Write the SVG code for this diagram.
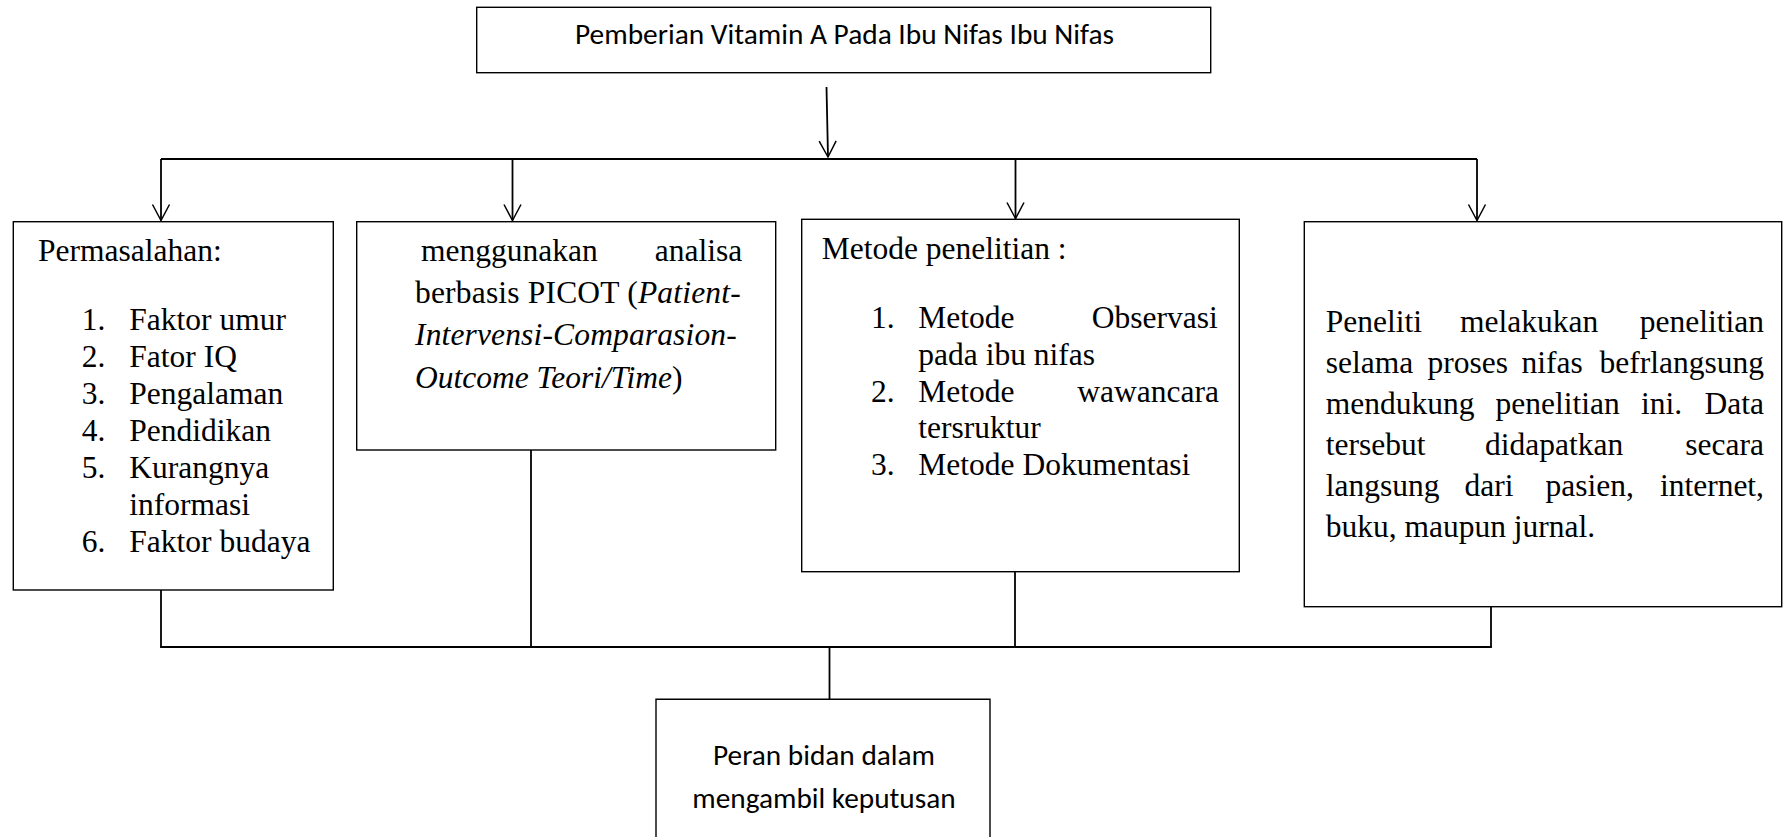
<svg xmlns="http://www.w3.org/2000/svg" width="1784" height="837" viewBox="0 0 1784 837">
<defs>
<style>
.box{fill:#fff;stroke:#000;stroke-width:1.4}
.cn{fill:none;stroke:#000;stroke-width:1.8}
.ser{font-family:"Liberation Serif","Times New Roman",serif;font-size:31.5px;fill:#000}
.it{font-style:italic}
.san{font-family:Carlito,Calibri,Lato,"Open Sans",sans-serif;font-size:28px;fill:#000}
</style>
<marker id="arr" markerUnits="userSpaceOnUse" markerWidth="20" markerHeight="22" viewBox="-18 -11 20 22" refX="0" refY="0" orient="auto">
<path d="M-16,-8.5 L0,0 L-16,8.5" fill="none" stroke="#000" stroke-width="1.5"/>
</marker>
</defs>
<rect width="1784" height="837" fill="#fff"/>

<g id="connectors">
<line class="cn" x1="826.5" y1="87" x2="828" y2="157" marker-end="url(#arr)"/>
<line class="cn" x1="161" y1="159" x2="1477" y2="159"/>
<line class="cn" x1="161" y1="159" x2="161" y2="220.5" marker-end="url(#arr)"/>
<line class="cn" x1="512.5" y1="159" x2="512.5" y2="220.5" marker-end="url(#arr)"/>
<line class="cn" x1="1015.5" y1="159" x2="1015.5" y2="218.5" marker-end="url(#arr)"/>
<line class="cn" x1="1477" y1="159" x2="1477" y2="220.5" marker-end="url(#arr)"/>
<line class="cn" x1="161" y1="590" x2="161" y2="647"/>
<line class="cn" x1="531" y1="450" x2="531" y2="647"/>
<line class="cn" x1="1015" y1="571.7" x2="1015" y2="647"/>
<line class="cn" x1="1491" y1="603" x2="1491" y2="647"/>
<line class="cn" x1="160.1" y1="647" x2="1491.9" y2="647"/>
<line class="cn" x1="829.5" y1="647" x2="829.5" y2="699.3"/>
</g>

<g id="node-top">
<rect class="box" x="476.7" y="7.3" width="734" height="65.4"/>
<text class="san" x="575" y="44" textLength="539" lengthAdjust="spacingAndGlyphs">Pemberian Vitamin A Pada Ibu Nifas Ibu Nifas</text>
</g>

<g id="node-permasalahan">
<rect class="box" x="13.3" y="221.7" width="320" height="368.3"/>
<text class="ser" x="38" y="261">Permasalahan:</text>
<text class="ser" x="81.7" y="330">1.</text><text class="ser" x="129.3" y="330">Faktor umur</text>
<text class="ser" x="81.7" y="367">2.</text><text class="ser" x="129.3" y="367">Fator IQ</text>
<text class="ser" x="81.7" y="404">3.</text><text class="ser" x="129.3" y="404">Pengalaman</text>
<text class="ser" x="81.7" y="441">4.</text><text class="ser" x="129.3" y="441">Pendidikan</text>
<text class="ser" x="81.7" y="478">5.</text><text class="ser" x="129.3" y="478">Kurangnya</text>
<text class="ser" x="129.3" y="515">informasi</text>
<text class="ser" x="81.7" y="552">6.</text><text class="ser" x="129.3" y="552">Faktor budaya</text>
</g>

<g id="node-picot">
<rect class="box" x="356.7" y="221.7" width="419" height="228.3"/>
<text class="ser" x="421" y="260.5">menggunakan</text>
<text class="ser" x="742.3" y="260.5" text-anchor="end">analisa</text>
<text class="ser" x="415" y="302.5" textLength="325.7" lengthAdjust="spacing">berbasis PICOT (<tspan class="it">Patient-</tspan></text>
<text class="ser it" x="415" y="345" textLength="321.7" lengthAdjust="spacing">Intervensi-Comparasion-</text>
<text class="ser" x="415" y="387.5"><tspan class="it">Outcome Teori/Time</tspan>)</text>
</g>

<g id="node-metode">
<rect class="box" x="801.7" y="219.3" width="437.6" height="352.4"/>
<text class="ser" x="821.7" y="259">Metode penelitian :</text>
<text class="ser" x="871" y="328">1.</text><text class="ser" x="918.3" y="328">Metode</text><text class="ser" x="1217.7" y="328" text-anchor="end">Observasi</text>
<text class="ser" x="918.3" y="364.5">pada ibu nifas</text>
<text class="ser" x="871" y="401.5">2.</text><text class="ser" x="918.3" y="401.5">Metode</text><text class="ser" x="1219" y="401.5" text-anchor="end">wawancara</text>
<text class="ser" x="918.3" y="438">tersruktur</text>
<text class="ser" x="871" y="474.5">3.</text><text class="ser" x="918.3" y="474.5">Metode Dokumentasi</text>
</g>

<g id="node-peneliti">
<rect class="box" x="1304.3" y="221.7" width="477.4" height="385"/>
<text class="ser" x="1325.7" y="332">Peneliti</text>
<text class="ser" x="1460" y="332">melakukan</text>
<text class="ser" x="1764" y="332" text-anchor="end">penelitian</text>
<text class="ser" x="1325.7" y="373">selama</text>
<text class="ser" x="1427.5" y="373">proses</text>
<text class="ser" x="1521.5" y="373">nifas</text>
<text class="ser" x="1764" y="373" text-anchor="end">befrlangsung</text>
<text class="ser" x="1325.7" y="414">mendukung</text>
<text class="ser" x="1495.5" y="414">penelitian</text>
<text class="ser" x="1641" y="414">ini.</text>
<text class="ser" x="1764" y="414" text-anchor="end">Data</text>
<text class="ser" x="1325.7" y="455">tersebut</text>
<text class="ser" x="1485" y="455">didapatkan</text>
<text class="ser" x="1764" y="455" text-anchor="end">secara</text>
<text class="ser" x="1325.7" y="496">langsung</text>
<text class="ser" x="1464.5" y="496">dari</text>
<text class="ser" x="1545.5" y="496">pasien,</text>
<text class="ser" x="1764" y="496" text-anchor="end">internet,</text>
<text class="ser" x="1325.7" y="537">buku, maupun jurnal.</text>
</g>

<g id="node-peran">
<path class="box" d="M656,837 V699.3 H990 V837"/>
<text class="san" x="824" y="765" text-anchor="middle" textLength="222" lengthAdjust="spacingAndGlyphs">Peran bidan dalam</text>
<text class="san" x="824" y="808" text-anchor="middle" textLength="263.3" lengthAdjust="spacingAndGlyphs">mengambil keputusan</text>
</g>
</svg>
